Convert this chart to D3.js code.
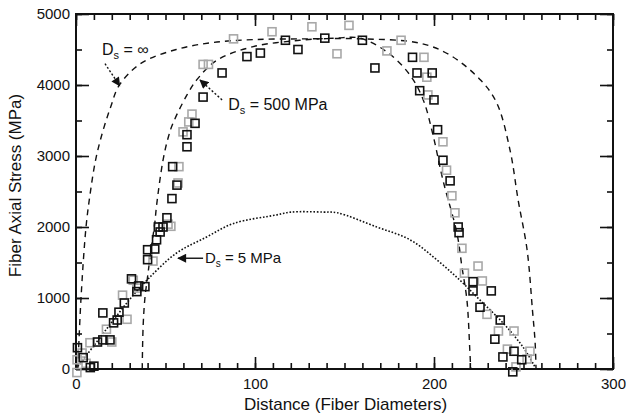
<!DOCTYPE html>
<html>
<head>
<meta charset="utf-8">
<script src="https://cdn.jsdelivr.net/npm/d3@7"></script>
<style>
  body { margin: 0; background: #fff; }
  text { font-family: "Liberation Sans", Arial, sans-serif; fill: #111; }
</style>
</head>
<body>
<svg id="chart" width="626" height="418"></svg>
<script>
//
// Data
//

// x ticks (fiber diameters), y ticks (MPa)
var xMajor = [0, 100, 200, 300]
var yMajor = [0, 1000, 2000, 3000, 4000, 5000]

// model curves, [distance, stress]
var curveInf = [[1,0],[2.8,1000],[5.6,2000],[7.8,2450],[11,2950],[15,3350],[19.5,3700],[24,3990],
  [36,4300],[56,4500],[77,4600],[100,4640],[130,4650],[160,4650],[192,4590],[209,4420],[226,4070],
  [235,3750],[242.5,3080],[247,2380],[252,1680],[255,830],[256.5,370],[257,0]]
var curve500 = [[37,0],[37.5,600],[38.5,1000],[40,1300],[42,1700],[44,2050],[45,2300],[48.6,2940],
  [51.4,3250],[54,3450],[62,3860],[68,4090],[78.8,4350],[99,4540],[125,4630],[145,4660],[158.7,4660],
  [174,4460],[186.6,4140],[194,3790],[199.4,3300],[205,2660],[212.8,1915],[215.6,1440],[218.4,970],
  [220,270],[220.5,0]]
var curve5 = [[0,0],[10,330],[20,660],[30,980],[39.6,1250],[56,1630],[73,1860],[88,2050],[112,2170],
  [120,2210],[138,2210],[146,2200],[168,2000],[186.6,1820],[201.7,1535],[214.5,1250],[225.7,970],
  [238.5,650],[249.7,310],[256.4,30]]

// measured points, two specimens
var blackPts = [[0.8,300],[4,160],[8,20],[10,40],[12,380],[15,410],[19,410],[15,790],[21,650],[23,690],
  [24,800],[27,930],[31,1270],[35,1170],[38.5,1160],[34,1090],[40,1680],[40,1540],[44,1690],[45,1820],
  [46,2000],[47,1930],[48.6,2000],[50.8,2130],[53.6,2400],[54,2850],[56.4,2590],[62,3130],[62,3300],
  [66.5,3460],[71,3830],[81.6,4170],[95.5,4400],[103,4450],[117,4630],[124,4500],[139,4660],[160,4630],
  [167,4240],[188,4390],[190.5,4170],[199,4170],[192,3920],[200,3790],[202,3370],[205,2940],[209,2650],
  [213.5,2000],[214,1920],[221.8,1230],[232,1100],[221.8,1100],[225.7,870],[237,690],[234,420],
  [244.7,250],[238.5,170],[249,130],[244,-40]]
var grayPts = [[0.5,-50],[0.6,130],[3.4,225],[5.6,80],[7.8,370],[17,560],[20,380],[26,1040],[28.5,700],
  [32,1250],[34,1140],[43,1520],[51.4,2040],[53,2010],[57.5,2850],[57,2620],[59.8,3340],[63,3480],
  [64.8,3590],[71,4290],[74,4290],[88,4650],[109.5,4750],[131.8,4820],[145.8,4440],[152.5,4840],
  [173.7,4480],[181.6,4630],[194.4,4390],[196,4110],[196.6,3860],[205,3200],[207,2800],[210,2440],
  [211.7,2200],[215.6,1700],[217,1350],[224.6,1450],[227,1240],[229.6,770],[236,535],[244.7,535],
  [241,280],[253.6,250],[252,140],[245.8,30]]

// annotation labels
var noteText = ['500 MPa', '5 MPa']

//
// Layout
//

var margin = { left: 76, right: 13, top: 14, bottom: 49 }
var width = 626, height = 418
var svg = d3.select('#chart')

var x = d3.scaleLinear().domain([0, 300]).range([margin.left, width - margin.right])
var y = d3.scaleLinear().domain([0, 5000]).range([height - margin.bottom, margin.top])

var xMinor = d3.range(0, 301, 10)
var yMinor = d3.range(0, 5001, 500)
var fmt = d3.format('d')

//
// Axes (ticks point inward on all four sides)
//

function addAxis(axis, tx, ty, size, labels) {
  var g = svg.append('g').attr('transform', 'translate(' + tx + ',' + ty + ')').call(axis.tickSize(size))
  g.select('.domain').remove()
  g.selectAll('line').attr('stroke', '#111').attr('stroke-width', 1.6)
  if (!labels) g.selectAll('text').remove()
  else g.selectAll('text').style('font-size', '15px').attr('fill', '#111')
  return g
}

var y0 = y(0), x0 = x(0), x1 = x(300), yTop = y(5000)

addAxis(d3.axisBottom(x).tickValues(xMinor).tickFormat(''), 0, y0, -6, false)
addAxis(d3.axisBottom(x).tickValues(xMajor).tickFormat(fmt).tickPadding(9), 0, y0, -12, true)
addAxis(d3.axisTop(x).tickValues(xMinor).tickFormat(''), 0, yTop, -6, false)
addAxis(d3.axisTop(x).tickValues(xMajor).tickFormat(''), 0, yTop, -12, false)
addAxis(d3.axisLeft(y).tickValues(yMinor).tickFormat(''), x0, 0, -6, false)
addAxis(d3.axisLeft(y).tickValues(yMajor).tickFormat(fmt).tickPadding(6), x0, 0, -13, true)
addAxis(d3.axisRight(y).tickValues(yMinor).tickFormat(''), x1, 0, -6, false)
addAxis(d3.axisRight(y).tickValues(yMajor).tickFormat(''), x1, 0, -13, false)

svg.append('rect')
  .attr('x', x0).attr('y', yTop)
  .attr('width', x1 - x0).attr('height', y0 - yTop)
  .attr('fill', 'none').attr('stroke', '#111').attr('stroke-width', 2)

svg.append('text')
  .attr('x', (x0 + x1) / 2 + 1).attr('y', 410)
  .attr('text-anchor', 'middle').style('font-size', '17px')
  .text('Distance (Fiber Diameters)')

svg.append('text')
  .attr('transform', 'translate(21,' + ((yTop + y0) / 2 - 6) + ') rotate(-90)')
  .attr('text-anchor', 'middle').style('font-size', '17px')
  .text('Fiber Axial Stress (MPa)')

//
// Curves
//

var line = d3.line()
  .x(function(d) { return x(d[0]) })
  .y(function(d) { return y(d[1]) })
  .curve(d3.curveCatmullRom.alpha(0.5))

function drawCurve(data, dash, w) {
  svg.append('path').datum(data)
    .attr('d', line)
    .attr('fill', 'none').attr('stroke', '#111').attr('stroke-width', w)
    .attr('stroke-dasharray', dash)
}

drawCurve(curveInf, '6,5', 1.4)
drawCurve(curve500, '6,5', 1.4)
drawCurve(curve5, '1.6,1.8', 1.6)

//
// Points
//

function drawPoints(data, color) {
  svg.append('g').selectAll('rect').data(data).enter().append('rect')
    .attr('x', function(d) { return x(d[0]) - 4 })
    .attr('y', function(d) { return y(d[1]) - 4 })
    .attr('width', 8).attr('height', 8)
    .attr('fill', 'none').attr('stroke', color).attr('stroke-width', 1.6)
}

drawPoints(grayPts, '#a8a8a8')
drawPoints(blackPts, '#111')

//
// Annotations
//

svg.append('defs').append('marker')
  .attr('id', 'head').attr('viewBox', '0 0 10 10')
  .attr('refX', 9).attr('refY', 5)
  .attr('markerWidth', 11).attr('markerHeight', 9)
  .attr('markerUnits', 'userSpaceOnUse')
  .attr('orient', 'auto')
  .append('path').attr('d', 'M0,0L10,5L0,10z').attr('fill', '#111')

function arrow(from, to, dash) {
  svg.append('line')
    .attr('x1', x(from[0])).attr('y1', y(from[1]))
    .attr('x2', x(to[0])).attr('y2', y(to[1]))
    .attr('stroke', '#111').attr('stroke-width', 1.4)
    .attr('stroke-dasharray', dash)
    .attr('marker-end', 'url(#head)')
}

function label(at, rest, size) {
  var t = svg.append('text').attr('x', x(at[0])).attr('y', y(at[1])).style('font-size', size + 'px')
  t.append('tspan').text('D')
  t.append('tspan').attr('dy', 4).style('font-size', (size - 5) + 'px').text('s')
  t.append('tspan').attr('dy', -4).text(' = ' + rest)
}

label([14.5, 4420], '\u221E', 16)
arrow([16.2, 4300], [24.4, 3990], '2,2')

label([85, 3650], noteText[0], 16)
arrow([81.6, 3790], [69.3, 4070], '2,2')

label([72, 1490], noteText[1], 15)
arrow([71, 1560], [57, 1560], null)
</script>
</body>
</html>
